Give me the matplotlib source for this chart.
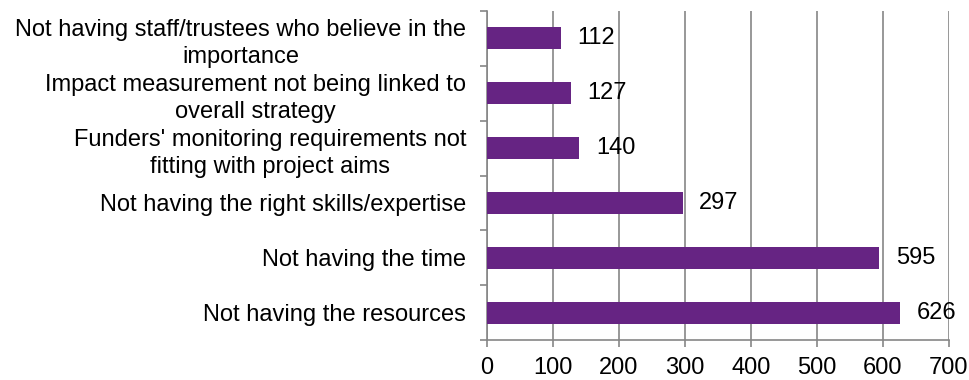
import matplotlib
matplotlib.use("Agg")
import matplotlib.pyplot as plt
import numpy as np

categories = [
    "Not having the resources",
    "Not having the time",
    "Not having the right skills/expertise",
    "Funders' monitoring requirements not\nfitting with project aims",
    "Impact measurement not being linked to\noverall strategy",
    "Not having staff/trustees who believe in the\nimportance",
]
values = [626, 595, 297, 140, 127, 112]
x_ticks = [0, 100, 200, 300, 400, 500, 600, 700]

bar_color = "#662483"
axis_gray = "#868686"
fs = 17

plt.rcParams["font.family"] = ["Liberation Sans", "DejaVu Sans"]

fig = plt.figure(figsize=(9.7, 3.8), dpi=100)
ax = fig.add_axes([0.502, 0.105, 0.476, 0.866])

y = np.arange(len(categories))
ax.barh(y, values, height=0.4, color=bar_color, zorder=3)

for yi, v in zip(y, values):
    ax.text(v + 25, yi, str(v), va="center", ha="left", fontsize=fs, zorder=4)

ax.set_xlim(0, 700)
ax.set_ylim(-0.5, len(categories) - 0.5)
ax.set_xticks(x_ticks)
ax.set_xticklabels([str(t) for t in x_ticks], fontsize=fs)

ax.set_yticks(y)
ax.set_yticklabels(categories, fontsize=fs, multialignment="center",
                   linespacing=1.3)
ax.set_yticks(np.arange(-0.5, len(categories), 1.0), minor=True)
ax.tick_params(axis="y", which="major", length=0, pad=15)
ax.tick_params(axis="y", which="minor", length=5, color=axis_gray, width=1.2)
ax.tick_params(axis="x", which="major", length=5, color=axis_gray, width=1.2, pad=7)

ax.grid(axis="x", color=axis_gray, linewidth=1.2, zorder=0)
for side in ("top", "right"):
    ax.spines[side].set_visible(False)
for side in ("left", "bottom"):
    ax.spines[side].set_color(axis_gray)
    ax.spines[side].set_linewidth(1.2)

fig.savefig("out.png", dpi=100, facecolor="white")
